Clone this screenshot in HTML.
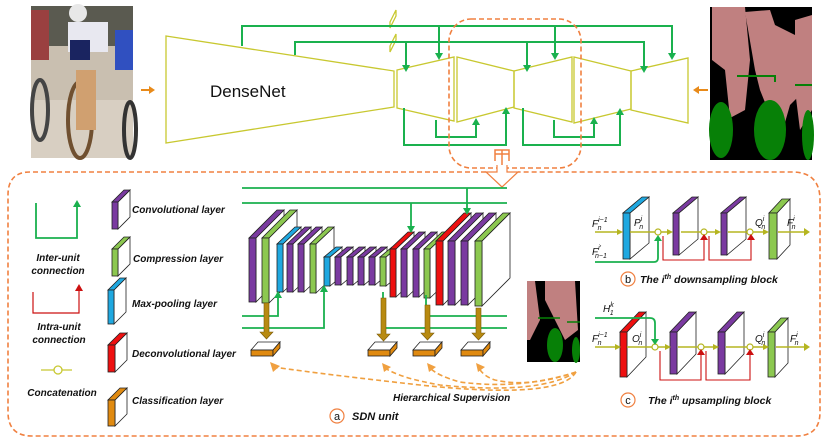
<!DOCTYPE html>
<html><head><meta charset="utf-8"><style>
body{margin:0;background:#fff;width:831px;height:447px;overflow:hidden}
svg{display:block}
text{font-family:"Liberation Sans",sans-serif}
.it{font-style:italic;font-weight:bold;font-size:10px;fill:#111}
</style></head><body>
<svg id="s" width="831" height="447" viewBox="0 0 831 447" xmlns="http://www.w3.org/2000/svg">
<!-- left photo -->
<rect x="31" y="6" width="102" height="152" fill="#c9bfb0"/>
<rect x="31" y="6" width="102" height="40" fill="#5a5a50"/>
<rect x="31" y="100" width="102" height="58" fill="#d8cfc2"/>
<ellipse cx="80" cy="120" rx="12" ry="38" fill="none" stroke="#705030" stroke-width="4"/>
<ellipse cx="40" cy="110" rx="8" ry="30" fill="none" stroke="#444" stroke-width="4"/>
<ellipse cx="130" cy="130" rx="6" ry="28" fill="none" stroke="#333" stroke-width="4"/>
<rect x="68" y="22" width="40" height="30" fill="#e8e8f0"/><rect x="70" y="40" width="20" height="20" fill="#1a2460"/>
<rect x="115" y="30" width="18" height="40" fill="#3050c0"/>
<rect x="31" y="10" width="18" height="50" fill="#9a4040"/>
<rect x="76" y="70" width="20" height="60" fill="#d0a070"/>
<circle cx="78" cy="13" r="9" fill="#e8e8e8"/>
<!-- right seg -->
<rect x="710" y="7" width="102" height="153" fill="#000"/>
<path d="M712,7 L745,7 L750,60 L745,110 L730,118 L725,70 L712,60Z" fill="#c08080"/>
<path d="M745,12 L770,10 L775,25 L795,35 L805,90 L790,105 L780,140 L760,90 L755,70 Z" fill="#c08080"/>
<path d="M795,20 L812,15 L812,110 L800,130 L795,90Z" fill="#c08080"/>
<ellipse cx="721" cy="130" rx="12" ry="28" fill="#078007"/>
<ellipse cx="770" cy="130" rx="16" ry="30" fill="#078007"/>
<ellipse cx="808" cy="135" rx="6" ry="25" fill="#078007"/>
<path d="M737,76 L775,76 L775,82 M795,85 L812,85" stroke="#078007" stroke-width="2" fill="none"/>
<!-- orange arrows -->
<path d="M141,90 L150,90" stroke="#e88a1a" stroke-width="2"/><path d="M149,86 L155,90 L149,94Z" fill="#e88a1a"/>
<path d="M698,90 L708,90" stroke="#e88a1a" stroke-width="2"/><path d="M699,86 L693,90 L699,94Z" fill="#e88a1a"/>
<!-- top network -->
<g fill="none" stroke="#c8c830" stroke-width="1.3">
<path d="M166,36 L394,71 L394,107 L166,143 Z"/>
<path d="M397,70 L454,57 L454,121 L397,108 Z"/>
<path d="M457,57 L514,71 L514,107 L457,122 Z"/>
<path d="M514,71 L572,57 L572,122 L514,108 Z"/>
<path d="M574,57 L631,71 L631,109 L574,123 Z"/>
<path d="M631,71 L688,58 L688,123 L631,110 Z"/>
<path d="M390,22 L396,10 L396,16 L390,28Z M390,46 L396,34 L396,40 L390,52Z"/>
</g>
<g fill="none" stroke="#1ab14e" stroke-width="2">
<path d="M242,46 L242,26 L672,26 L672,55"/>
<path d="M439,26 L439,55 M555,26 L555,55"/>
<path d="M295,55 L295,42 L644,42 L644,68"/>
<path d="M406,42 L406,65 M527,42 L527,65"/>
<path d="M436,120 L436,137 L476,137 L476,123"/>
<path d="M404,108 L404,145 L506,145 L506,112"/>
<path d="M554,120 L554,137 L594,137 L594,122"/>
<path d="M523,108 L523,145 L620,145 L620,113"/>
</g>
<g fill="#1ab14e">
<path d="M435,53 L443,53 L439,60Z"/><path d="M551,53 L559,53 L555,60Z"/><path d="M668,53 L676,53 L672,60Z"/>
<path d="M402,65 L410,65 L406,72Z"/><path d="M523,65 L531,65 L527,72Z"/><path d="M640,66 L648,66 L644,73Z"/>
<path d="M472,125 L480,125 L476,118Z"/><path d="M502,114 L510,114 L506,107Z"/><path d="M590,124 L598,124 L594,117Z"/><path d="M616,115 L624,115 L620,108Z"/>
</g>
<text x="210" y="97" font-size="17" fill="#111">DenseNet</text>
<rect x="449" y="19" width="132" height="149" rx="22" fill="none" stroke="#f08040" stroke-width="1.6" stroke-dasharray="5,3"/>
<path d="M495,161 L495,150 L509,150 L509,161 M495,154 L509,154 M502,150 L502,166" stroke="#f08040" stroke-width="1.5" fill="none"/>
<path d="M497,165 L497,172 L486,172 L502,187 L518,172 L507,172 L507,165" stroke="#f08040" stroke-width="1.2" fill="#fff"/>
<path d="M486,172 L30,172 Q8,172 8,195 L8,412 Q8,436 32,436 L796,436 Q820,436 820,412 L820,200 Q820,172 792,172 L518,172" fill="none" stroke="#f08040" stroke-width="1.6" stroke-dasharray="5,3"/>
<!-- legend -->
<path d="M36,203 L36,238 L77,238 L77,206" fill="none" stroke="#1ab14e" stroke-width="1.8"/><path d="M73,207 L81,207 L77,200Z" fill="#1ab14e"/>
<text class="it" x="58" y="261" text-anchor="middle">Inter-unit</text><text class="it" x="58" y="274" text-anchor="middle">connection</text>
<path d="M33,292 L33,313 L79,313 L79,289" fill="none" stroke="#cc1010" stroke-width="1.2"/><path d="M75,291 L83,291 L79,284Z" fill="#cc1010"/>
<text class="it" x="59" y="330" text-anchor="middle">Intra-unit</text><text class="it" x="59" y="343" text-anchor="middle">connection</text>
<path d="M41,370 L72,370" stroke="#c8c830" stroke-width="1.3"/><circle cx="58" cy="370" r="4" fill="#fff" stroke="#c8c830" stroke-width="1.3"/>
<text class="it" x="62" y="396" text-anchor="middle">Concatenation</text>
<text class="it" x="132" y="213">Convolutional layer</text>
<text class="it" x="133" y="262">Compression layer</text>
<text class="it" x="132" y="307">Max-pooling layer</text>
<text class="it" x="132" y="357">Deconvolutional  layer</text>
<text class="it" x="132" y="404">Classification layer</text>
<g id="slabs"></g>
<!-- SDN green lines -->
<g fill="none" stroke="#1ab14e" stroke-width="1.8">
<path d="M242,188 L507,188 M242,203 L507,203"/>
<path d="M467,188 L467,210 M411,203 L411,228"/>
<path d="M242,316 L278,316 L278,296"/>
<path d="M242,328 L324,328 L324,290"/>
<path d="M383,292 L383,328 L507,328"/>
<path d="M426,295 L426,316 L507,316"/>
</g>
<g fill="#1ab14e"><path d="M463,208 L471,208 L467,215Z"/><path d="M407,226 L415,226 L411,233Z"/><path d="M274,298 L282,298 L278,291Z"/><path d="M320,292 L328,292 L324,285Z"/></g>
<!-- brown arrows -->
<g fill="#b88a10" stroke="#7a5a08" stroke-width=".6">
<path d="M264,303 L269,303 L269,332 L273,332 L266.5,339 L260,332 L264,332Z"/>
<path d="M381,298 L386,298 L386,334 L390,334 L383.5,341 L377,334 L381,334Z"/>
<path d="M425,305 L430,305 L430,333 L434,333 L427.5,340 L421,333 L425,333Z"/>
<path d="M476,308 L481,308 L481,333 L485,333 L478.5,340 L472,333 L476,333Z"/>
</g>
<!-- classification boxes -->
<g stroke="#222" stroke-width=".8">
<path d="M251,350 L258,342 L280,342 L273,350Z" fill="#fff"/><rect x="251" y="350" width="22" height="6" fill="#e08a10"/><path d="M273,350 L280,342 L280,348 L273,356Z" fill="#e08a10"/>
<path d="M368,350 L375,342 L397,342 L390,350Z" fill="#fff"/><rect x="368" y="350" width="22" height="6" fill="#e08a10"/><path d="M390,350 L397,342 L397,348 L390,356Z" fill="#e08a10"/>
<path d="M413,350 L420,342 L442,342 L435,350Z" fill="#fff"/><rect x="413" y="350" width="22" height="6" fill="#e08a10"/><path d="M435,350 L442,342 L442,348 L435,356Z" fill="#e08a10"/>
<path d="M461,350 L468,342 L490,342 L483,350Z" fill="#fff"/><rect x="461" y="350" width="22" height="6" fill="#e08a10"/><path d="M483,350 L490,342 L490,348 L483,356Z" fill="#e08a10"/>
</g>
<!-- mini seg -->
<rect x="527" y="281" width="53" height="81" fill="#000"/>
<path d="M527,281 L535,281 L540,320 L530,340 L527,340Z M545,281 L575,281 L578,330 L565,340 L555,320 L545,300Z" fill="#c08080"/>
<ellipse cx="555" cy="345" rx="8" ry="17" fill="#078007"/><ellipse cx="576" cy="350" rx="4" ry="13" fill="#078007"/>
<path d="M538,318 L560,318 M567,322 L580,322" stroke="#078007" stroke-width="1.5"/>
<!-- dashed orange curves -->
<g fill="none" stroke="#f0a040" stroke-width="1.6" stroke-dasharray="5,3">
<path d="M576,372 Q560,400 420,385 Q330,375 273,367"/>
<path d="M576,372 Q540,395 440,385 Q400,378 385,368"/>
<path d="M576,372 Q520,390 460,382 Q438,376 430,368"/>
<path d="M576,372 Q530,388 495,380 Q483,376 479,368"/>
</g>
<g fill="#f0a040"><path d="M270,362 L280,366 L273,372Z"/><path d="M382,363 L391,367 L384,372Z"/><path d="M427,363 L436,367 L429,372Z"/><path d="M476,363 L485,367 L478,372Z"/></g>
<text class="it" x="393" y="401" font-size="9.5">Hierarchical Supervision</text>
<circle cx="337" cy="416" r="7" fill="#fff" stroke="#f08040" stroke-width="1.2"/><text x="337" y="420" font-size="11" text-anchor="middle" fill="#111">a</text>
<text x="352" y="420" font-size="11" font-style="italic" font-weight="bold" font-family="Liberation Serif" fill="#111">SDN unit</text>
<!-- block b/c lines -->
<g stroke="#b5b520" stroke-width="1.5" fill="none">
<path d="M595,232 L620,232 M630,232 L670,232 M681,232 L718,232 M728,232 L766,232 M778,232 L806,232"/>
<path d="M595,347 L618,347 M627,347 L668,347 M678,347 L716,347 M726,347 L766,347 M776,347 L806,347"/>
</g>
<g fill="#b5b520"><path d="M617,229 L623,232 L617,235Z"/><path d="M667,229 L673,232 L667,235Z"/><path d="M715,229 L721,232 L715,235Z"/><path d="M763,229 L769,232 L763,235Z"/><path d="M804,228 L810,232 L804,236Z"/>
<path d="M615,344 L621,347 L615,350Z"/><path d="M665,344 L671,347 L665,350Z"/><path d="M713,344 L719,347 L713,350Z"/><path d="M763,344 L769,347 L763,350Z"/><path d="M804,343 L810,347 L804,351Z"/></g>
<g fill="#fff" stroke="#b5b520" stroke-width="1.2"><circle cx="658" cy="232" r="3"/><circle cx="704" cy="232" r="3"/><circle cx="750" cy="232" r="3"/><circle cx="655" cy="347" r="3"/><circle cx="701" cy="347" r="3"/><circle cx="750" cy="347" r="3"/></g>
<g fill="none" stroke="#cc1010" stroke-width="1.1">
<path d="M663,236 L663,260 L704,260 L704,238 M709,236 L709,260 L751,260 L751,238"/>
<path d="M660,351 L660,380 L701,380 L701,353 M706,351 L706,380 L750,380 L750,353"/>
</g>
<g fill="#cc1010"><path d="M700,240 L708,240 L704,234Z"/><path d="M747,240 L755,240 L751,234Z"/><path d="M697,355 L705,355 L701,349Z"/><path d="M746,355 L754,355 L750,349Z"/></g>
<path d="M595,262 L654,262 Q658,262 658,258 L658,240" fill="none" stroke="#1ab14e" stroke-width="1.8"/><path d="M654,241 L662,241 L658,235Z" fill="#1ab14e"/>
<path d="M595,318 L650,318 Q655,318 655,323 L655,340" fill="none" stroke="#1ab14e" stroke-width="1.8"/><path d="M651,339 L659,339 L655,345Z" fill="#1ab14e"/>
<g font-family="Liberation Serif" font-style="italic" font-size="10" fill="#111">
<text x="592" y="227">F<tspan font-size="7" dy="-5">i−1</tspan><tspan font-size="7" dx="-10" dy="8">n</tspan></text>
<text x="634" y="226">P<tspan font-size="7" dy="-5">i</tspan><tspan font-size="7" dx="-3" dy="8">n</tspan></text>
<text x="592" y="255">F<tspan font-size="7" dy="-5">i′</tspan><tspan font-size="7" dx="-6" dy="8">n−1</tspan></text>
<text x="755" y="226">Q<tspan font-size="7" dy="-5">i</tspan><tspan font-size="7" dx="-3" dy="8">n</tspan></text>
<text x="787" y="226">F<tspan font-size="7" dy="-5">i</tspan><tspan font-size="7" dx="-3" dy="8">n</tspan></text>
<text x="603" y="312">H<tspan font-size="7" dy="-5">k</tspan><tspan font-size="7" dx="-4" dy="8">1</tspan></text>
<text x="592" y="342">F<tspan font-size="7" dy="-5">i−1</tspan><tspan font-size="7" dx="-10" dy="8">n</tspan></text>
<text x="632" y="342">O<tspan font-size="7" dy="-5">i</tspan><tspan font-size="7" dx="-3" dy="8">n</tspan></text>
<text x="755" y="342">Q<tspan font-size="7" dy="-5">i</tspan><tspan font-size="7" dx="-3" dy="8">n</tspan></text>
<text x="790" y="342">F<tspan font-size="7" dy="-5">i</tspan><tspan font-size="7" dx="-3" dy="8">n</tspan></text>
</g>
<circle cx="628" cy="279" r="7" fill="#fff" stroke="#f08040" stroke-width="1.2"/><text x="628" y="283" font-size="11" text-anchor="middle" fill="#111">b</text>
<text x="640" y="283" font-family="Liberation Serif" font-style="italic" font-weight="bold" font-size="10.5" fill="#111">The i<tspan font-size="7" dy="-4">th</tspan><tspan dy="4">  downsampling block</tspan></text>
<circle cx="628" cy="400" r="7" fill="#fff" stroke="#f08040" stroke-width="1.2"/><text x="628" y="404" font-size="11" text-anchor="middle" fill="#111">c</text>
<text x="648" y="404" font-family="Liberation Serif" font-style="italic" font-weight="bold" font-size="10.5" fill="#111">The i<tspan font-size="7" dy="-4">th</tspan><tspan dy="4">  upsampling block</tspan></text>
</svg>
<script>
var P='#7a3aa0',G='#8cc850',B='#1fa8e0',R='#ee1010',O='#e08a10';
var L=[
[112,202,6,27,12,12,P],[112,249,6,27,12,12,G],[108,290,6,34,12,12,B],[108,345,7,27,12,12,R],[108,400,7,26,12,12,O],
[249,238,7,64,28,28,P],[262,238,7,65,28,28,G],
[277,244,6,48,18,17,B],[287,244,6,48,18,17,P],[298,244,6,48,18,17,P],[310,244,6,49,18,17,G],
[324,257,6,29,12,10,B],[335,257,6,28,12,10,P],[347,257,6,28,12,10,P],[358,257,6,28,12,10,P],[369,257,6,28,12,10,P],[380,257,6,29,12,10,G],
[390,249,6,48,18,17,R],[401,249,6,48,18,17,P],[413,249,6,48,18,17,P],[424,249,6,49,18,17,G],
[436,241,7,64,28,28,R],[448,241,7,64,28,28,P],[461,241,7,64,28,28,P],[475,241,7,65,28,28,G],
[623,213,7,46,19,16,B],[673,213,6,42,19,16,P],[721,213,6,42,19,16,P],[769,213,8,46,13,14,G],
[620,332,7,45,19,20,R],[670,332,7,42,19,20,P],[718,332,7,42,19,20,P],[768,332,7,45,13,14,G]];
var g=document.getElementById('slabs'),h='';
L.forEach(function(a){var x=a[0],y=a[1],w=a[2],H=a[3],dx=a[4],dy=a[5],c=a[6];
h+='<path d="M'+(x+w)+','+y+' L'+(x+w+dx)+','+(y-dy)+' L'+(x+w+dx)+','+(y-dy+H)+' L'+(x+w)+','+(y+H)+'Z" fill="#fff" stroke="#222" stroke-width="0.8"/>';
h+='<path d="M'+x+','+y+' L'+(x+w)+','+y+' L'+(x+w+dx)+','+(y-dy)+' L'+(x+dx)+','+(y-dy)+'Z" fill="'+c+'" stroke="#222" stroke-width="0.8"/>';
h+='<rect x="'+x+'" y="'+y+'" width="'+w+'" height="'+H+'" fill="'+c+'" stroke="#222" stroke-width="0.8"/>';});
g.innerHTML=h;
</script>
</body></html>
